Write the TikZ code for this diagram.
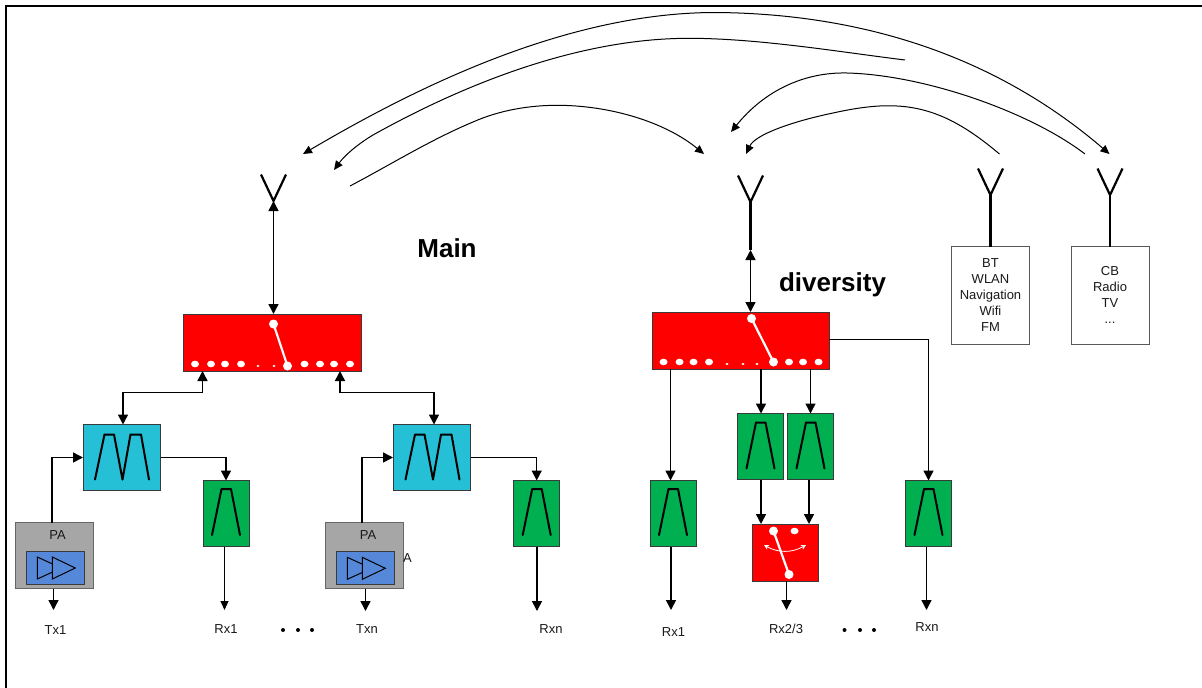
\documentclass[tikz,border=0pt]{standalone}
\usepackage{fontspec}
\setmainfont{Liberation Sans}
\usetikzlibrary{arrows.meta,calc}
\definecolor{swred}{HTML}{FF0000}
\definecolor{fltgreen}{HTML}{00B050}
\definecolor{dupcyan}{HTML}{25C0D5}
\definecolor{ampblue}{HTML}{5588D8}
\definecolor{pagrey}{HTML}{A6A6A6}
\definecolor{edgegrey}{HTML}{3A3A3A}
\tikzset{
  blk/.style={draw=edgegrey,line width=.8pt,anchor=north west,inner sep=0pt,outer sep=0pt,rectangle},
  switchbox/.style={blk,fill=swred,minimum width=178pt,minimum height=57pt},
  minisw/.style={blk,fill=swred,minimum width=66.5pt,minimum height=57pt},
  duplexer/.style={blk,fill=dupcyan,minimum width=77.5pt,minimum height=66pt},
  bandpass/.style={blk,fill=fltgreen,minimum width=46pt,minimum height=66pt},
  pabox/.style={blk,fill=pagrey,draw=gray!80!black,minimum width=78pt,minimum height=66pt},
  ampbox/.style={blk,fill=ampblue,minimum width=58pt,minimum height=33pt},
  radiobox/.style={blk,draw=gray!70!black,fill=white,minimum width=77.5pt,minimum height=97.5pt},
  lbl/.style={font=\fontsize{13}{15}\selectfont,inner sep=0pt,text=black!90},
  multi/.style={lbl,align=center},
  title/.style={font=\bfseries\fontsize{26}{30}\selectfont,inner sep=0pt},
  link/.style={line width=1.5pt,-{Triangle[length=10pt,width=10pt]}},
  thinlink/.style={line width=1.1pt,-{Triangle[length=9pt,width=8pt]}},
  dlink/.style={line width=1.5pt,{Triangle[length=10pt,width=10pt]}-{Triangle[length=10pt,width=10pt]}},
  arc/.style={line width=1pt,-{Triangle[length=9pt,width=8pt]}},
  larc/.style={line width=1pt,{Triangle[length=9pt,width=8pt]}-},
  darc/.style={line width=1pt,{Triangle[length=9pt,width=8pt]}-{Triangle[length=9pt,width=8pt]}},
  aerial/.style={line width=2.2pt,line join=miter},
  flt/.style={line width=2pt,line join=round,line cap=round},
  swarm/.style={line width=2.2pt,white},
  dotw/.style={fill=white,draw=none},
  tri/.style={draw=black,line width=1pt,fill=ampblue,line join=miter}
}
\newcommand{\trap}[2]{\draw[flt] (#1+9,#2+55) -- (#1+18.5,#2+9) -- (#1+28,#2+9) -- (#1+37,#2+55);}
\newcommand{\dupw}[2]{\draw[flt] (#1+12,#2+55) -- (#1+21.5,#2+10) -- (#1+31,#2+10) -- (#1+39.5,#2+55) -- (#1+47.5,#2+10) -- (#1+58,#2+10) -- (#1+66,#2+55);}
\newcommand{\amptri}[2]{\draw[tri] (#1,#2) -- (#1,#2+22) -- (#1+24,#2+11) -- cycle;
  \draw[tri] (#1+15,#2) -- (#1+15,#2+22) -- (#1+38,#2+11) -- cycle;}
\newcommand{\aerialY}[2]{\draw[aerial] (#1-12.5,#2-26.5) -- (#1,#2) -- (#1+12.5,#2-26.5);}
\begin{document}
\begin{tikzpicture}[x=1pt,y=-1pt]
\useasboundingbox (0,0) rectangle (1202,688);
% frame
\coordinate (fc) at (6,6);
\draw[line width=2pt,line cap=rect] (6,688) -- (fc) -- (1202,6);

% main chain
\node[switchbox] (sw1) at (183,314) {};
\node[duplexer] (dup1) at (83,424.5) {};
\node[duplexer] (dup2) at (393,424.5) {};
\node[bandpass] (g1) at (203,480.5) {};
\node[bandpass] (g2) at (513.7,480.5) {};
\node[pabox] (pa1) at (15,522.5) {};
\node[pabox] (pa2) at (325.5,522.5) {};
\node[ampbox] (amp1) at (26,551) {};
\node[ampbox] (amp2) at (336,551.5) {};
% diversity chain
\node[switchbox,minimum width=177pt] (sw2) at (652,312) {};
\node[bandpass] (g3) at (650,480.5) {};
\node[bandpass] (g4) at (737.5,413.5) {};
\node[bandpass] (g5) at (787.5,413.5) {};
\node[bandpass] (g6) at (905.5,480.5) {};
\node[minisw] (sw3) at (752,524) {};
% radio boxes
\node[radiobox] (bt) at (951.7,246.5) {};
\node[radiobox] (cb) at (1071.7,246.5) {};

% glyphs
\dupw{83}{424.5}\dupw{393.5}{424.5}
\trap{203}{480}\trap{513.7}{480}\trap{650}{480}\trap{737.5}{413.5}\trap{787.5}{413.5}\trap{905.5}{480}
\amptri{37.3}{557}\amptri{347.3}{557.3}

% switch 1
\foreach \x in {195,211,225,241,304.5,320,334,350}{\fill[dotw] (\x,364) ellipse (4pt and 3.3pt);}
\foreach \x in {258,274}{\fill[dotw] (\x,366) ellipse (1.6pt and 1pt);}
\draw[swarm] (273.5,324) -- (287.5,366);
\fill[dotw] (273.5,324) circle (4.5pt);
\fill[dotw] (287.5,366) circle (4.5pt);
% switch 2
\foreach \x in {663.5,679.5,693.5,709,789,803,818.5}{\fill[dotw] (\x,362) ellipse (4pt and 3.3pt);}
\foreach \x in {727,743,757}{\fill[dotw] (\x,364) ellipse (1.6pt and 1pt);}
\draw[swarm] (751.5,318.5) -- (773.5,362);
\fill[dotw] (751.5,318.5) circle (4.5pt);
\fill[dotw] (773.5,362) circle (4.5pt);
% switch 3
\draw[swarm] (773.5,531) -- (789,574.5);
\fill[dotw] (773.5,531) circle (4.5pt);
\fill[dotw] (794.5,531) ellipse (4pt and 3.3pt);
\fill[dotw] (789,574.5) circle (4.5pt);
\draw[white,line width=.8pt,{Stealth[length=5pt,width=5pt]}-{Stealth[length=5pt,width=5pt]}] (764,545) .. controls (778,553) and (792,553) .. (806,545);

% antennas
\coordinate (a1) at (273.5,201);
\coordinate (a2) at (750.5,202);
\coordinate (a3) at (990.5,195);
\coordinate (a4) at (1110,195);
\coordinate (a2s) at (750.5,250);
\aerialY{273.5}{201}\aerialY{750.5}{202}\aerialY{990.5}{195}\aerialY{1110}{195}
\draw[line width=2.2pt] (a2) -- (a2s);
\draw[line width=2.2pt] (a3) -- (a3 |- bt.north);
\draw[line width=2.2pt] (a4) -- (a4 |- cb.north);
\draw[dlink] (a1) -- (a1 |- sw1.north);
\draw[dlink] (a2s) -- (a2s |- sw2.north);

% main connectors
\coordinate (d1n) at (123,424.5);
\coordinate (s1l) at (202.5,371);
\coordinate (d2n) at (434,424.5);
\coordinate (s1r) at (340,371);
\coordinate (p1n) at (52,522.5);
\coordinate (p2n) at (362,522.5);
\coordinate (t1e) at (53.5,610);
\coordinate (t2e) at (365.5,611);
\coordinate (r1e) at (224.5,610);
\coordinate (r2e) at (537,611);
\draw[dlink] (d1n) |- ($(s1l)+(0,21.5)$) -- (s1l);
\draw[dlink] (d2n) |- ($(s1r)+(0,21.5)$) -- (s1r);
\draw[link] (p1n) |- (dup1.west);
\draw[link] (p2n) |- (dup2.west);
\draw[link] (dup1.east) -| (g1.north);
\draw[link] (dup2.east) -| (g2.north);
\draw[link] (t1e |- pa1.south) -- (t1e);
\draw[link] (t2e |- pa2.south) -- (t2e);
\draw[thinlink] (r1e |- g1.south) -- (r1e);
\draw[link] (r2e |- g2.south) -- (r2e);

% diversity connectors
\coordinate (dr1) at (670.5,480.5);
\coordinate (dr1e) at (671,610);
\coordinate (g4n) at (761,413.5);
\coordinate (g5n) at (810.5,413.5);
\coordinate (s3a) at (761,524);
\coordinate (s3b) at (809,524);
\coordinate (s3e) at (786.5,610);
\coordinate (g6e) at (926.5,610);
\coordinate (s2e) at (829,339.5);
\draw[link] (dr1 |- sw2.south) -- (dr1);
\draw[link] (g4n |- sw2.south) -- (g4n);
\draw[link] (g5n |- sw2.south) -- (g5n);
\draw[link] (s2e) -| (g6.north);
\draw[link] (dr1e |- g3.south) -- (dr1e);
\draw[link] (s3a |- g4.south) -- (s3a);
\draw[link] (s3b |- g5.south) -- (s3b);
\draw[link] (s3e |- sw3.south) -- (s3e);
\draw[link] (g6e |- g6.south) -- (g6e);

% top arcs
\coordinate (c1a) at (303,154);
\coordinate (c1b) at (1109.5,154);
\coordinate (c2a) at (905,60);
\coordinate (c2b) at (334,170);
\coordinate (c3a) at (350,186);
\coordinate (c3b) at (704,154);
\coordinate (c4a) at (1085,154);
\coordinate (c4b) at (731,132);
\coordinate (c5a) at (999.5,154);
\coordinate (c5b) at (746,154);
\draw[darc] (c1a) .. controls (420,85) and (570,12) .. (717,12.5) .. controls (870,14) and (1000,60) .. (c1b);
\draw[larc] (c2b) .. controls (345,155) and (358,144) .. (373,135) .. controls (450,92) and (570,38) .. (690,38.3) .. controls (760,38.5) and (840,52) .. (c2a);
\draw[arc] (c3a) .. controls (390,165) and (430,140) .. (473,122) .. controls (500,110) and (530,105.3) .. (557,105.3) .. controls (610,105.3) and (665,122) .. (c3b);
\draw[larc] (c4b) .. controls (765,90) and (805,72) .. (847,73) .. controls (925,75) and (1030,112) .. (c4a);
\draw[larc] (c5b) .. controls (755,135) and (790,122) .. (833,113) .. controls (860,107) and (880,105) .. (897,106) .. controls (935,108) and (965,125) .. (c5a);

% labels
\node[title] (tmain) at (447,248) {Main};
\node[title] (tdiv) at (832.5,285) {diversity};
\node[lbl] (lpa1) at (57.5,535.5) {PA};
\node[lbl] (lpa2) at (368,535.5) {PA};
\node[lbl] (la) at (407.5,558) {A};
\node[lbl] (ltx1) at (55.5,630) {Tx1};
\node[lbl] (lrx1) at (226,629) {Rx1};
\node[lbl] (ltxn) at (367,629) {Txn};
\node[lbl] (lrxn) at (551,629) {Rxn};
\node[lbl] (drx1) at (673.5,632) {Rx1};
\node[lbl] (drx23) at (786,629) {Rx2/3};
\node[lbl] (drxn) at (927,627) {Rxn};
\foreach \x in {283,298,312,844.5,860,874}{\fill (\x,630) circle (2pt);}
\node[multi,font=\fontsize{13}{16.2}\selectfont] (tbt) at (990.5,295) {BT\\WLAN\\Navigation\\Wifi\\FM};
\node[multi,font=\fontsize{13}{16.2}\selectfont] (tcb) at (1110,295) {CB\\Radio\\TV\\...};
\end{tikzpicture}
\end{document}
